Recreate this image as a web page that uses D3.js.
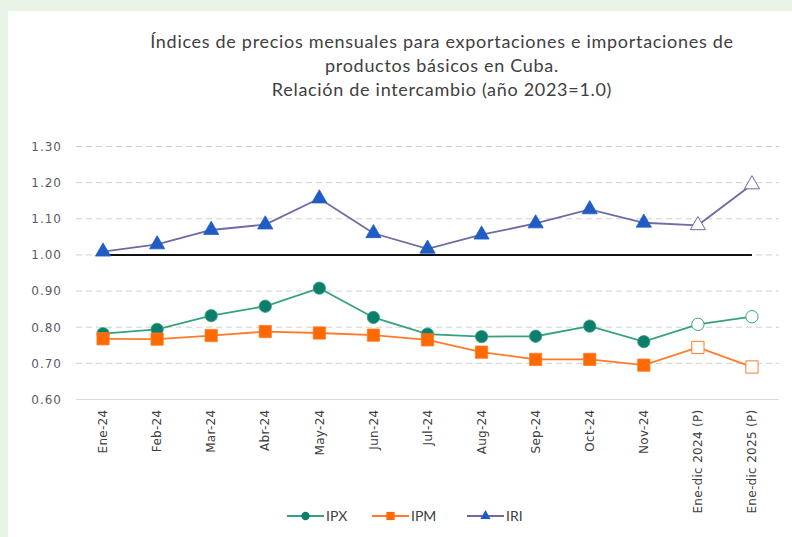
<!DOCTYPE html>
<html>
<head>
<meta charset="utf-8">
<script src="https://cdn.jsdelivr.net/npm/d3@7"></script>
<style>
  body { margin: 0; background: #e9f3e6; }
  #chart-area { width: 792px; height: 537px; }
</style>
</head>
<body>
<div id="chart-area"></div>
<script>
const categories = ["Ene-24", "Feb-24", "Mar-24", "Abr-24", "May-24", "Jun-24", "Jul-24",
    "Aug-24", "Sep-24", "Oct-24", "Nov-24", "Ene-dic 2024 (P)", "Ene-dic 2025 (P)"]
const ipx = [0.782, 0.794, 0.832, 0.858, 0.908, 0.827, 0.781, 0.774, 0.775, 0.803, 0.760, 0.808, 0.829]
const ipm = [0.768, 0.767, 0.777, 0.788, 0.784, 0.778, 0.765, 0.731, 0.711, 0.711, 0.695, 0.744, 0.690]
const iri = [1.009, 1.029, 1.069, 1.084, 1.156, 1.060, 1.017, 1.056, 1.087, 1.126, 1.089, 1.082, 1.195]
const projected = ["Ene-dic 2024 (P)", "Ene-dic 2025 (P)"]
const yTicks = [0.60, 0.70, 0.80, 0.90, 1.00, 1.10, 1.20, 1.30]
const titleLines = ["Índices de precios mensuales para exportaciones e importaciones de",
    "productos básicos en Cuba.", "Relación de intercambio (año 2023=1.0)"]

const series = [
    { name: "IPX", values: ipx, line: "#36a27a", fill: "#0c7f6c", stroke: "#36a27a", shape: d3.symbolCircle, size: 120 },
    { name: "IPM", values: ipm, line: "#ff7a2a", fill: "#ff6a00", stroke: "#ff7a2a", shape: d3.symbolSquare, size: 150 },
    { name: "IRI", values: iri, line: "#6e6aa8", fill: "#1f5cc4", stroke: "#1f5cc4", shape: d3.symbolTriangle, size: 100 }
]

const W = 792, H = 537
const svg = d3.select("#chart-area").append("svg")
    .attr("width", W)
    .attr("height", H)

svg.append("rect")
    .attr("x", 8).attr("y", 11)
    .attr("width", W - 8).attr("height", H - 11)
    .attr("fill", "white")

// Title
svg.append("g").selectAll("text")
    .data(titleLines)
    .enter().append("text")
    .attr("x", 442)
    .attr("y", (d, i) => 48 + i * 24)
    .attr("text-anchor", "middle")
    .attr("font-family", "Lato, sans-serif")
    .attr("font-size", "18px")
    .attr("letter-spacing", "0.7px")
    .attr("fill", "#404040")
    .text(d => d)

// Scales
const x = d3.scaleBand()
    .domain(categories)
    .range([76, 779])

const y = d3.scaleLinear()
    .domain([0.6, 1.3])
    .range([399.5, 146.5])

const cx = d => x(d) + x.bandwidth() / 2

// Grid
svg.append("g").selectAll("line")
    .data(yTicks.filter(t => t > 0.6))
    .enter().append("line")
    .attr("x1", 76).attr("x2", 779)
    .attr("y1", d => y(d)).attr("y2", d => y(d))
    .attr("stroke", "#d0d0d0")
    .attr("stroke-width", 1)
    .attr("stroke-dasharray", "6,4")

svg.append("line")
    .attr("x1", 76).attr("x2", 779)
    .attr("y1", y(0.6)).attr("y2", y(0.6))
    .attr("stroke", "#d9d9d9")

// Y axis
const yAxisCall = d3.axisLeft(y)
    .tickValues(yTicks)
    .tickSize(0)
    .tickFormat(d3.format(".2f"))
const yAxis = svg.append("g")
    .attr("transform", "translate(62, 0)")
    .call(yAxisCall)
yAxis.select(".domain").remove()
yAxis.selectAll("text")
    .attr("x", 0)
    .attr("font-family", "DejaVu Sans, sans-serif")
    .attr("font-size", "12px")
    .attr("letter-spacing", "1px")
    .attr("fill", "#5a5a66")

// X axis
const xAxisCall = d3.axisBottom(x).tickSize(0).tickPadding(0)
const xAxis = svg.append("g")
    .attr("transform", `translate(0, ${y(0.6)})`)
    .call(xAxisCall)
xAxis.select(".domain").remove()
xAxis.selectAll("text")
    .attr("transform", "rotate(-90)")
    .attr("text-anchor", "end")
    .attr("x", -10)
    .attr("y", 0)
    .attr("dy", "0.35em")
    .attr("font-family", "DejaVu Sans, sans-serif")
    .attr("font-size", "12px")
    .attr("letter-spacing", "0.3px")
    .attr("fill", "#404040")

// Reference line at 1.0
svg.append("line")
    .attr("x1", cx(categories[0]))
    .attr("x2", cx(categories[categories.length - 1]))
    .attr("y1", y(1)).attr("y2", y(1))
    .attr("stroke", "#111")
    .attr("stroke-width", 2)

// Lines and markers
const line = d3.line()
    .x(d => cx(d.cat))
    .y(d => y(d.v))

series.forEach(s => {
    const pts = categories.map((c, i) => ({ cat: c, v: s.values[i] }))
    svg.append("path")
        .datum(pts)
        .attr("d", line)
        .attr("fill", "none")
        .attr("stroke", s.line)
        .attr("stroke-width", 1.8)

    svg.append("g").selectAll("path")
        .data(pts)
        .enter().append("path")
        .attr("d", d3.symbol().type(s.shape).size(s.size))
        .attr("transform", d => `translate(${cx(d.cat)}, ${y(d.v)})`)
        .attr("fill", d => projected.includes(d.cat) ? "white" : s.fill)
        .attr("stroke", d => projected.includes(d.cat) ? s.line : s.stroke)
        .attr("stroke-width", d => projected.includes(d.cat) ? 1 : 0.8)
})

// Legend
const legendX = [287, 372, 467]
const legend = svg.append("g").selectAll("g")
    .data(series)
    .enter().append("g")
    .attr("transform", (d, i) => `translate(${legendX[i]}, 516)`)

legend.append("line")
    .attr("x1", 0).attr("x2", 37)
    .attr("stroke", d => d.line)
    .attr("stroke-width", 1.8)
legend.append("path")
    .attr("d", d => d3.symbol().type(d.shape).size(d.size * 0.45)())
    .attr("transform", "translate(18.5, 0)")
    .attr("fill", d => d.fill)
legend.append("text")
    .attr("x", 39)
    .attr("dy", "0.35em")
    .attr("font-family", "Lato, sans-serif")
    .attr("font-size", "14px")
    .attr("fill", "#404040")
    .text(d => d.name)
</script>
</body>
</html>
